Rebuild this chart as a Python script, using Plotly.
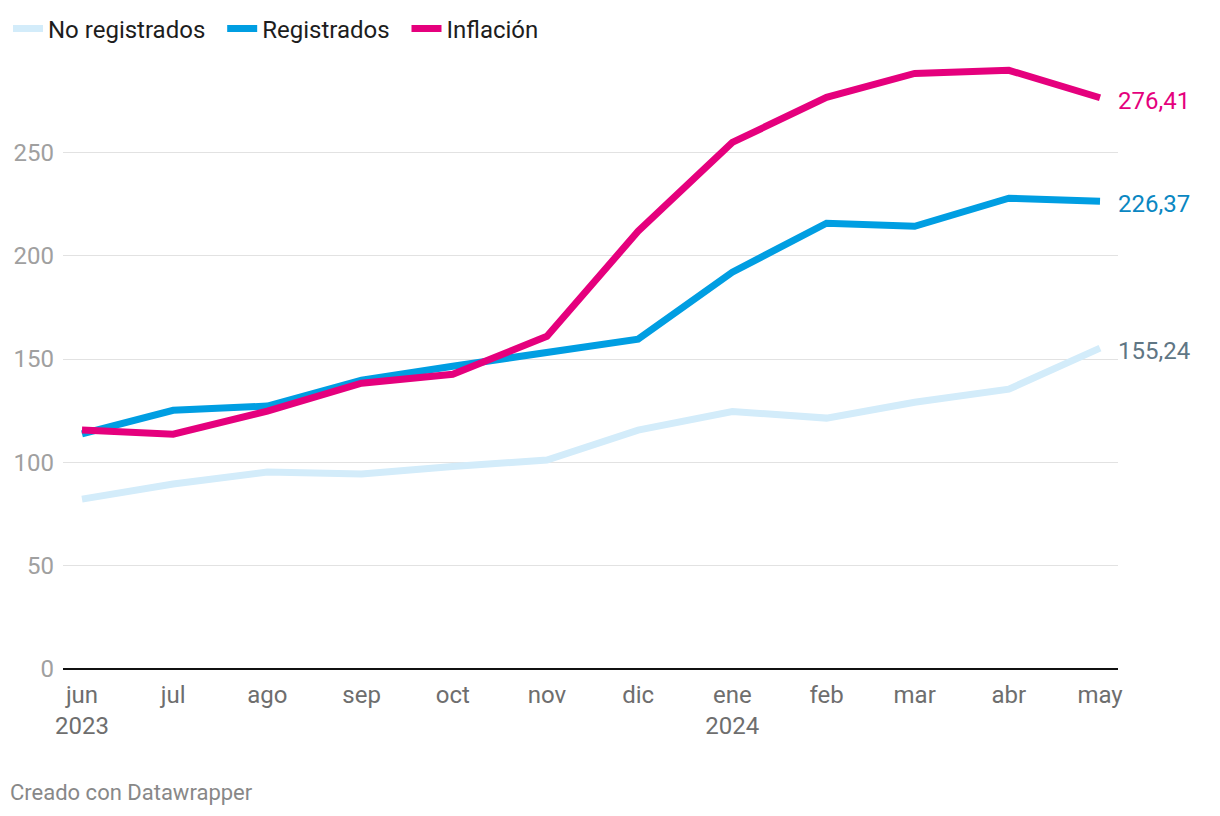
import plotly.graph_objects as go

months = ["2023-06-01", "2023-07-01", "2023-08-01", "2023-09-01", "2023-10-01", "2023-11-01",
          "2023-12-01", "2024-01-01", "2024-02-01", "2024-03-01", "2024-04-01", "2024-05-01"]
tick_labels = ["jun<br>2023", "jul", "ago", "sep", "oct", "nov", "dic", "ene<br>2024",
               "feb", "mar", "abr", "may"]
no_registrados = [82.2, 89.5, 95.3, 94.3, 98.0, 101.1, 115.6, 124.6, 121.4, 129.1, 135.4, 155.24]
registrados = [113.8, 125.2, 127.2, 139.7, 146.5, 152.8, 159.6, 192.0, 215.7, 214.2, 227.8, 226.37]
inflacion = [115.6, 113.6, 124.8, 138.3, 142.6, 161.0, 211.8, 254.8, 276.6, 288.2, 289.7, 276.41]
y_ticks = [0, 50, 100, 150, 200, 250]

series = [
    ("No registrados\u00a0\u00a0", no_registrados, "#d3ecfa", "#5f7684", "155,24"),
    ("Registrados\u00a0\u00a0", registrados, "#009ee2", "#0a87c2", "226,37"),
    ("Inflación", inflacion, "#e5007d", "#e5007d", "276,41"),
]

fig = go.Figure()
for name, vals, color, lcolor, lab in series:
    fig.add_trace(go.Scatter(x=months, y=vals, mode="lines", name=name,
                             line=dict(color=color, width=7, shape="linear"),
                             hoverinfo="skip"))
    fig.add_annotation(x=months[-1], y=vals[-1], xref="x", yref="y", text=lab,
                       showarrow=False, xanchor="left", yanchor="middle", xshift=16,
                       yshift=-3,
                       font=dict(family="Roboto", size=24, color=lcolor))

fig.add_annotation(text="Creado con Datawrapper", xref="paper", yref="paper",
                   x=0, y=0, xanchor="left", yanchor="middle", showarrow=False,
                   xshift=-55, yshift=-123,
                   font=dict(family="Roboto", size=22, color="#888888"))

fig.update_layout(
    width=1220, height=816,
    margin=dict(l=55, r=110, t=40.6, b=155, autoexpand=False),
    paper_bgcolor="white", plot_bgcolor="white",
    font=dict(family="Roboto", size=22, color="#222222"),
    showlegend=True,
    legend=dict(orientation="h", xref="container", yref="container",
                x=-0.0033, y=1 - 21 / 816, xanchor="left", yanchor="middle",
                font=dict(family="Roboto", size=24, color="#1d1d1d"),
                itemwidth=30, tracegroupgap=0, bgcolor="rgba(0,0,0,0)"),
    xaxis=dict(type="date", range=["2023-05-25 18:00", "2024-05-06 22:00"],
               tickvals=months, ticktext=tick_labels, showgrid=False,
               showline=False, zeroline=False, ticks="", ticklabelstandoff=9,
               tickfont=dict(family="Roboto", size=24, color="#6e6e6e")),
    yaxis=dict(range=[0, 300], tickvals=y_ticks, showgrid=True, gridcolor="#e2e2e2",
               gridwidth=1.3, zeroline=True, zerolinecolor="#111111", zerolinewidth=2,
               ticks="", ticklabelstandoff=8,
               tickfont=dict(family="Roboto", size=24, color="#a0a0a0")),
)

fig.write_html("out.html")
